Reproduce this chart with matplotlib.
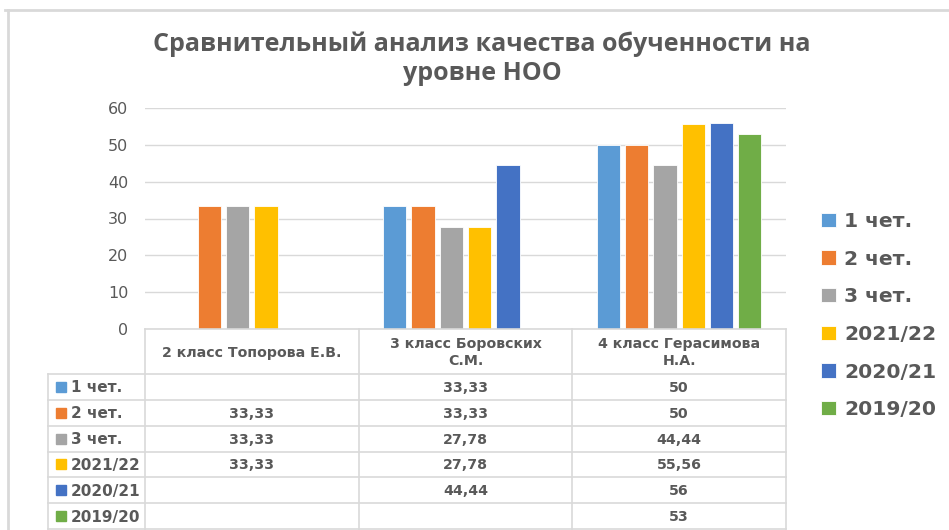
import numpy as np
import matplotlib.pyplot as plt
from matplotlib.patches import Rectangle

# data
categories = ["2 класс Топорова Е.В.", "3 класс Боровских\nС.М.", "4 класс Герасимова\nН.А."]
series = ["1 чет.", "2 чет.", "3 чет.", "2021/22", "2020/21", "2019/20"]
q1 = [np.nan, 33.33, 50]
q2 = [33.33, 33.33, 50]
q3 = [33.33, 27.78, 44.44]
y2122 = [33.33, 27.78, 55.56]
y2021 = [np.nan, 44.44, 56]
y1920 = [np.nan, np.nan, 53]
values = [q1, q2, q3, y2122, y2021, y1920]
colors = ["#5B9BD5", "#ED7D31", "#A5A5A5", "#FFC000", "#4472C4", "#70AD47"]
yticks = [0, 10, 20, 30, 40, 50, 60]

TEXT = "#595959"
GRID = "#D9D9D9"
W, H = 949, 530

fig = plt.figure(figsize=(W / 100, H / 100), dpi=100)


def fx(px):
    return px / W


def fy(py):
    return 1 - py / H


# chart area
ax = fig.add_axes([fx(145), fy(329), fx(786) - fx(145), fy(108) - fy(329)])
x = np.arange(len(categories))
slot = 0.1325
width = 0.108
bars = []
for i, (name, vals) in enumerate(zip(series, values)):
    b = ax.bar(x + (i - 2.5) * slot, vals, width, color=colors[i],
               edgecolor="white", linewidth=0.6, label=name, zorder=3)
    bars.append(b)

ax.set_xlim(-0.5, len(categories) - 0.5)
ax.set_ylim(0, 60)
ax.set_yticks(yticks)
ax.set_xticks([])
ax.yaxis.grid(True, color=GRID, linewidth=1)
ax.set_axisbelow(True)
for s in ax.spines.values():
    s.set_visible(False)
ax.tick_params(axis="y", length=0, pad=12, labelsize=11.5, labelcolor=TEXT)

# title
fig.text(fx(482), fy(59), "Сравнительный анализ качества обученности на\nуровне НОО",
         ha="center", va="center", fontsize=18, fontweight="bold", color=TEXT,
         linespacing=1.2, family=["Liberation Sans Narrow", "Open Sans", "DejaVu Sans"])

# data table
tab = fig.add_axes([0, 0, 1, 1])
tab.set_xlim(0, W)
tab.set_ylim(H, 0)
tab.axis("off")

col_w = (786 - 145) / len(categories)
cols = [145 + col_w * k for k in range(len(categories) + 1)]
head_top, head_bot, tab_bot = 329, 374, 529
row_h = (tab_bot - head_bot) / len(series)
lab_left = 48

lc = dict(color=GRID, linewidth=1.2)
tab.plot([cols[0], cols[-1]], [head_top, head_top], **lc)
for k in range(len(series) + 1):
    yy = head_bot + k * row_h
    tab.plot([lab_left, cols[-1]], [yy, yy], **lc)
tab.plot([lab_left, lab_left], [head_bot, tab_bot], **lc)
for c in cols:
    tab.plot([c, c], [head_top, tab_bot], **lc)

tfont = dict(fontsize=10.2, fontweight="bold", color=TEXT)
for j, cat in enumerate(categories):
    tab.text((cols[j] + cols[j + 1]) / 2, (head_top + head_bot) / 2 + 1, cat,
             ha="center", va="center", linespacing=1.25, **tfont)

for i, (name, vals) in enumerate(zip(series, values)):
    yc = head_bot + (i + 0.5) * row_h
    tab.add_patch(Rectangle((56, yc - 5), 10, 10, color=colors[i]))
    tab.text(71, yc + 1, name, ha="left", va="center", fontsize=11,
             fontweight="bold", color=TEXT)
    for j, v in enumerate(vals):
        if np.isnan(v):
            continue
        s = f"{v:g}".replace(".", ",")
        tab.text((cols[j] + cols[j + 1]) / 2, yc + 1, s, ha="center", va="center", **tfont)

# frame
tab.plot([5, W], [10, 10], color=GRID, linewidth=2)
tab.plot([8, 8], [10, H], color=GRID, linewidth=2)

# legend
leg = fig.legend(handles=bars, loc="upper left", bbox_to_anchor=(fx(821), fy(212)),
                 frameon=False, fontsize=14.6, handlelength=0.75, handleheight=0.7,
                 handletextpad=0.4, labelspacing=0.92, borderpad=0, borderaxespad=0)
for t in leg.get_texts():
    t.set_color(TEXT)
    t.set_fontweight("bold")

fig.savefig("out.png", dpi=100)
